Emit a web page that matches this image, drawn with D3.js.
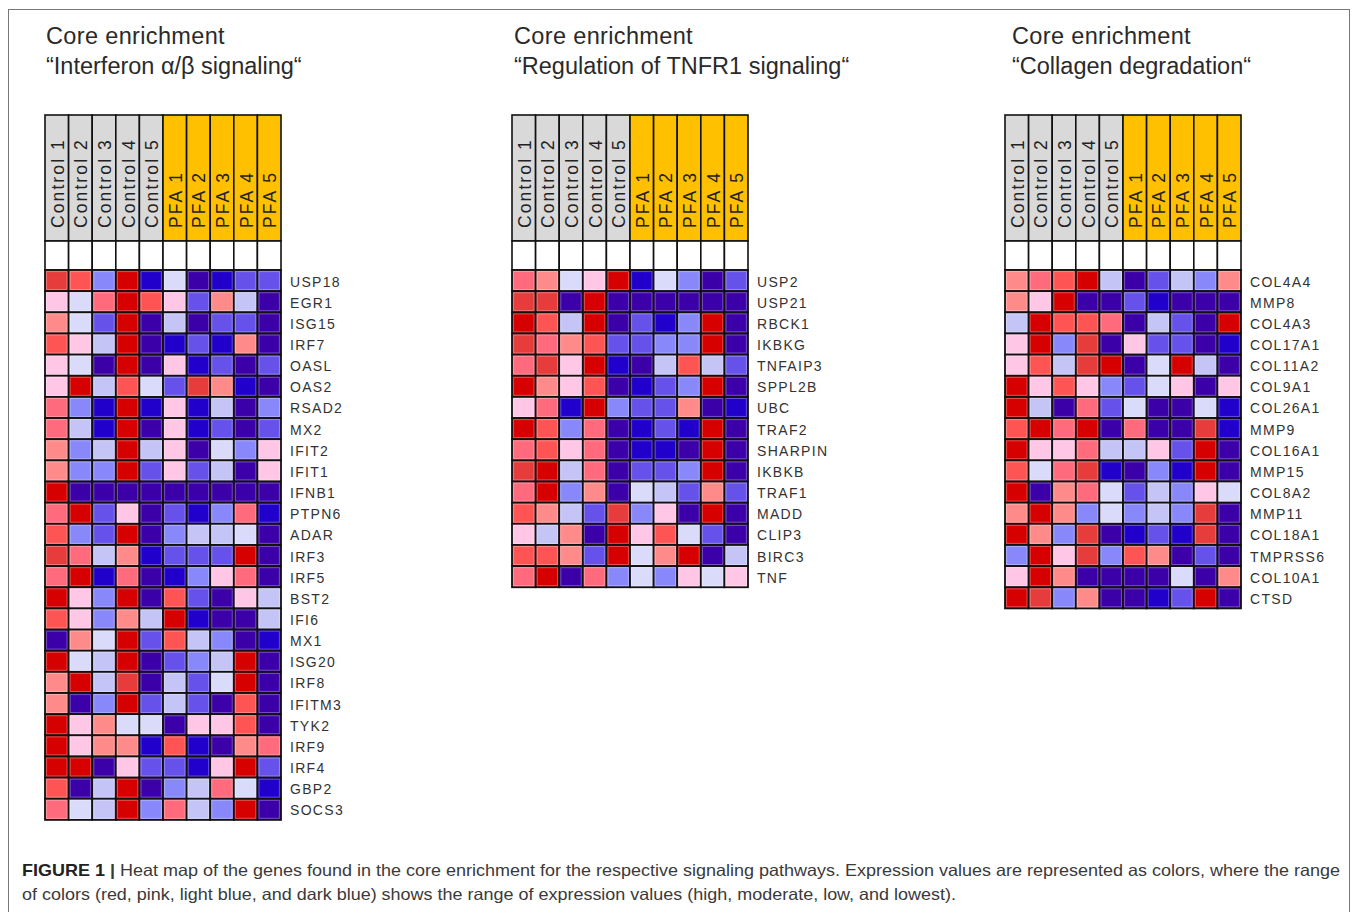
<!DOCTYPE html>
<html>
<head>
<meta charset="utf-8">
<script src="https://cdn.jsdelivr.net/npm/d3@7"></script>
<style>
  body { margin: 0; background: #fff; }
  svg { display: block; font-family: "Liberation Sans", Arial, sans-serif; }
</style>
</head>
<body>
<svg id="chart" width="1358" height="912"></svg>
<script>
// samples (columns), same for every panel
const samples = ['Control 1', 'Control 2', 'Control 3', 'Control 4', 'Control 5',
  'PFA 1', 'PFA 2', 'PFA 3', 'PFA 4', 'PFA 5'];

// expression level per cell, 0 = lowest (dark blue) ... 11 = highest (dark red)
const ifnGenes = ['USP18', 'EGR1', 'ISG15', 'IRF7', 'OASL', 'OAS2', 'RSAD2', 'MX2', 'IFIT2', 'IFIT1',
  'IFNB1', 'PTPN6', 'ADAR', 'IRF3', 'IRF5', 'BST2', 'IFI6', 'MX1', 'ISG20', 'IRF8', 'IFITM3',
  'TYK2', 'IRF9', 'IRF4', 'GBP2', 'SOCS3'];
const ifnValues = [
  [10, 9, 3, 11, 1, 5, 0, 1, 2, 2],
  [6, 5, 8, 11, 9, 6, 2, 7, 4, 0],
  [7, 5, 2, 11, 0, 4, 0, 2, 2, 0],
  [9, 6, 4, 11, 0, 1, 2, 1, 7, 0],
  [6, 5, 0, 11, 0, 6, 1, 2, 0, 2],
  [6, 11, 4, 9, 5, 2, 10, 7, 1, 0],
  [8, 3, 1, 11, 1, 6, 1, 4, 0, 3],
  [8, 4, 1, 11, 0, 6, 1, 2, 0, 2],
  [7, 3, 4, 11, 4, 6, 0, 5, 3, 6],
  [7, 3, 3, 11, 2, 6, 2, 4, 0, 6],
  [11, 0, 0, 0, 0, 0, 0, 0, 0, 0],
  [8, 11, 2, 6, 0, 2, 1, 3, 8, 1],
  [9, 3, 2, 11, 0, 3, 4, 4, 5, 0],
  [10, 8, 4, 7, 1, 2, 2, 2, 11, 0],
  [8, 11, 1, 8, 0, 1, 3, 6, 8, 0],
  [11, 6, 3, 11, 0, 9, 2, 0, 6, 4],
  [9, 6, 3, 7, 4, 11, 1, 0, 0, 4],
  [0, 7, 5, 11, 2, 9, 4, 3, 0, 1],
  [11, 5, 4, 11, 0, 2, 3, 4, 11, 0],
  [7, 11, 4, 10, 0, 4, 2, 5, 11, 0],
  [7, 0, 3, 11, 2, 4, 2, 0, 9, 0],
  [11, 6, 7, 5, 5, 0, 6, 6, 9, 0],
  [11, 6, 7, 7, 1, 9, 1, 0, 7, 8],
  [11, 11, 0, 6, 2, 2, 1, 6, 11, 2],
  [9, 0, 4, 11, 0, 3, 4, 8, 5, 1],
  [8, 5, 4, 11, 3, 8, 4, 3, 11, 0]
];

const tnfGenes = ['USP2', 'USP21', 'RBCK1', 'IKBKG', 'TNFAIP3', 'SPPL2B', 'UBC', 'TRAF2',
  'SHARPIN', 'IKBKB', 'TRAF1', 'MADD', 'CLIP3', 'BIRC3', 'TNF'];
const tnfValues = [
  [8, 7, 5, 6, 11, 1, 5, 3, 0, 2],
  [10, 10, 0, 11, 0, 0, 0, 0, 0, 0],
  [11, 9, 4, 11, 0, 2, 1, 3, 11, 0],
  [10, 8, 7, 9, 2, 2, 3, 3, 11, 0],
  [8, 10, 6, 11, 1, 0, 4, 9, 4, 2],
  [11, 7, 6, 9, 0, 1, 2, 3, 11, 0],
  [6, 8, 1, 11, 3, 2, 2, 7, 0, 1],
  [11, 9, 3, 8, 0, 1, 2, 1, 11, 0],
  [8, 9, 6, 8, 0, 1, 1, 0, 11, 0],
  [10, 11, 4, 8, 0, 2, 2, 3, 11, 0],
  [8, 11, 3, 7, 0, 5, 4, 2, 7, 2],
  [9, 7, 4, 2, 10, 3, 6, 0, 11, 0],
  [6, 4, 7, 0, 11, 6, 9, 5, 2, 0],
  [9, 9, 7, 2, 11, 5, 7, 11, 0, 4],
  [8, 11, 0, 8, 3, 5, 3, 6, 5, 6]
];

const colGenes = ['COL4A4', 'MMP8', 'COL4A3', 'COL17A1', 'COL11A2', 'COL9A1', 'COL26A1', 'MMP9',
  'COL16A1', 'MMP15', 'COL8A2', 'MMP11', 'COL18A1', 'TMPRSS6', 'COL10A1', 'CTSD'];
const colValues = [
  [7, 8, 9, 11, 4, 0, 2, 4, 3, 7],
  [7, 6, 11, 0, 0, 2, 1, 0, 0, 0],
  [4, 11, 9, 9, 8, 0, 4, 2, 0, 11],
  [6, 11, 3, 10, 0, 6, 2, 2, 0, 1],
  [6, 9, 4, 10, 11, 0, 5, 11, 4, 0],
  [11, 6, 9, 6, 3, 2, 5, 6, 0, 6],
  [11, 4, 0, 8, 2, 5, 0, 0, 5, 1],
  [9, 11, 8, 11, 0, 8, 0, 0, 10, 1],
  [11, 6, 6, 8, 4, 4, 6, 2, 11, 0],
  [9, 5, 8, 10, 1, 0, 3, 1, 11, 0],
  [11, 0, 7, 8, 5, 2, 4, 3, 6, 5],
  [7, 11, 7, 3, 5, 3, 4, 3, 10, 0],
  [11, 7, 3, 10, 0, 1, 2, 1, 10, 0],
  [3, 11, 6, 10, 3, 9, 7, 0, 2, 0],
  [6, 11, 7, 0, 0, 0, 0, 5, 0, 7],
  [11, 10, 3, 7, 0, 0, 1, 2, 11, 0]
];

const panelTitles = ['“Interferon α/β signaling“', '“Regulation of TNFR1 signaling“', '“Collagen degradation“'];

const levelColors = ['#3c00a8', '#2200cc', '#6652ea', '#8888fa', '#c4c4f6', '#dadafa',
  '#ffc6e6', '#ff8a8a', '#ff6a7c', '#ff5454', '#e63c3c', '#d60000'];

const color = d3.scaleOrdinal().domain(d3.range(levelColors.length)).range(levelColors);

const svg = d3.select('#chart');

// outer frame (open at the bottom)
svg.append('rect')
  .attr('x', 8.5).attr('y', 9.5).attr('width', 1341).attr('height', 930)
  .attr('fill', 'none').attr('stroke', '#777').attr('stroke-width', 1);

const panels = [
  { genes: ifnGenes, values: ifnValues, x0: 45, titleX: 46 },
  { genes: tnfGenes, values: tnfValues, x0: 512, titleX: 514 },
  { genes: colGenes, values: colValues, x0: 1005, titleX: 1012 }
];

const headTop = 115, headBottom = 241, rowsTop = 270, rowH = 21.15, gridW = 236;

panels.forEach((p, i) => {
  const g = svg.append('g');

  g.append('text').attr('x', p.titleX).attr('y', 44)
    .attr('font-size', 23.5).attr('letter-spacing', 0.35).attr('fill', '#2a2a2a').text('Core enrichment');
  g.append('text').attr('x', p.titleX).attr('y', 74)
    .attr('font-size', 23.5).attr('fill', '#2a2a2a').text(panelTitles[i]);

  const x = d3.scaleBand().domain(samples).range([p.x0, p.x0 + gridW]);
  const y = d3.scaleBand().domain(p.genes).range([rowsTop, rowsTop + p.genes.length * rowH]);

  // header boxes
  g.selectAll('rect.head').data(samples).join('rect')
    .attr('class', 'head')
    .attr('x', d => x(d)).attr('y', headTop)
    .attr('width', x.bandwidth()).attr('height', headBottom - headTop)
    .attr('fill', d => d.startsWith('PFA') ? '#ffc000' : '#d9d9d9')
    .attr('stroke', '#111').attr('stroke-width', 1.6);

  g.selectAll('text.head').data(samples).join('text')
    .attr('class', 'head')
    .attr('transform', d => `translate(${x(d) + x.bandwidth() / 2 + 1},${headBottom - 13}) rotate(-90)`)
    .attr('dominant-baseline', 'central')
    .attr('font-size', 17.5).attr('letter-spacing', 2.1).attr('fill', '#222')
    .text(d => d);

  // blank row below the header
  g.selectAll('rect.blank').data(samples).join('rect')
    .attr('class', 'blank')
    .attr('x', d => x(d)).attr('y', headBottom)
    .attr('width', x.bandwidth()).attr('height', rowsTop - headBottom)
    .attr('fill', '#fff')
    .attr('stroke', '#111').attr('stroke-width', 1.6);

  // heat cells
  const cells = [];
  p.genes.forEach((gene, r) => {
    samples.forEach((s, c) => cells.push({ gene, sample: s, v: p.values[r][c] }));
  });

  g.selectAll('rect.cell').data(cells).join('rect')
    .attr('class', 'cell')
    .attr('x', d => x(d.sample)).attr('y', d => y(d.gene))
    .attr('width', x.bandwidth()).attr('height', y.bandwidth())
    .attr('fill', d => color(d.v))
    .attr('stroke', '#111').attr('stroke-width', 1.8);

  // soft inner edge of each cell
  g.selectAll('rect.edge').data(cells).join('rect')
    .attr('class', 'edge')
    .attr('x', d => x(d.sample) + 1.6).attr('y', d => y(d.gene) + 1.6)
    .attr('width', x.bandwidth() - 3.2).attr('height', y.bandwidth() - 3.2)
    .attr('fill', 'none')
    .attr('stroke', 'rgba(255,255,255,0.3)').attr('stroke-width', 1);

  g.selectAll('text.gene').data(p.genes).join('text')
    .attr('class', 'gene')
    .attr('x', p.x0 + gridW + 9)
    .attr('y', d => y(d) + y.bandwidth() / 2 + 1)
    .attr('dominant-baseline', 'central')
    .attr('font-size', 14).attr('letter-spacing', 1.3).attr('fill', '#333')
    .text(d => d);
});

// caption
const cap = svg.append('g').attr('font-size', 16.5).attr('fill', '#3a3a3a');
const line1 = cap.append('text').attr('x', 22).attr('y', 876)
  .attr('textLength', 1318).attr('lengthAdjust', 'spacingAndGlyphs');
line1.append('tspan').attr('font-weight', 'bold').attr('fill', '#222').text('FIGURE 1');
line1.append('tspan').attr('font-weight', 'bold').text(' | ');
line1.append('tspan').text('Heat map of the genes found in the core enrichment for the respective signaling pathways. Expression values are represented as colors, where the range');
cap.append('text').attr('x', 22).attr('y', 900)
  .attr('textLength', 934).attr('lengthAdjust', 'spacingAndGlyphs')
  .text('of colors (red, pink, light blue, and dark blue) shows the range of expression values (high, moderate, low, and lowest).');
</script>
</body>
</html>
